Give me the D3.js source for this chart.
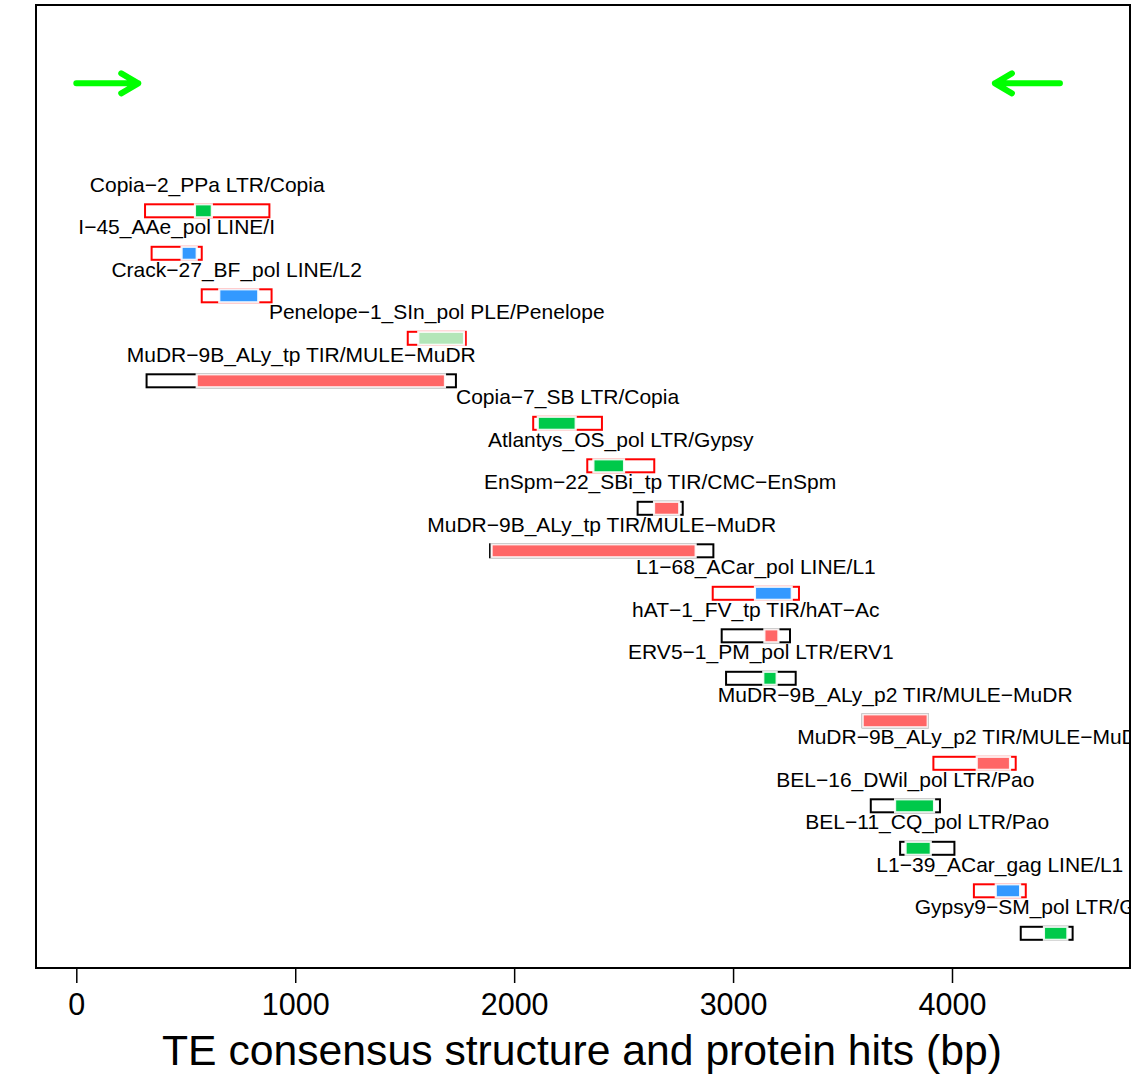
<!DOCTYPE html>
<html>
<head>
<meta charset="utf-8">
<script src="https://cdn.jsdelivr.net/npm/d3@7"></script>
<style>
  html, body { margin: 0; padding: 0; background: #fff; }
  svg { display: block; font-family: "Liberation Sans", Arial, Helvetica, sans-serif; }
</style>
</head>
<body>
<svg id="chart" width="1131" height="1080"></svg>
<script>
// ---- data ----
const hitNames = [
  "Copia−2_PPa LTR/Copia",
  "I−45_AAe_pol LINE/I",
  "Crack−27_BF_pol LINE/L2",
  "Penelope−1_SIn_pol PLE/Penelope",
  "MuDR−9B_ALy_tp TIR/MULE−MuDR",
  "Copia−7_SB LTR/Copia",
  "Atlantys_OS_pol LTR/Gypsy",
  "EnSpm−22_SBi_tp TIR/CMC−EnSpm",
  "MuDR−9B_ALy_tp TIR/MULE−MuDR",
  "L1−68_ACar_pol LINE/L1",
  "hAT−1_FV_tp TIR/hAT−Ac",
  "ERV5−1_PM_pol LTR/ERV1",
  "MuDR−9B_ALy_p2 TIR/MULE−MuDR",
  "MuDR−9B_ALy_p2 TIR/MULE−MuDR",
  "BEL−16_DWil_pol LTR/Pao",
  "BEL−11_CQ_pol LTR/Pao",
  "L1−39_ACar_gag LINE/L1",
  "Gypsy9−SM_pol LTR/Gypsy"
];
// TE consensus span of each hit (bp)
const teFrom = [314, 344, 573, 1514, 321, 2087, 2334, 2564, 1890, 2907, 2948, 2968, 3592, 3915, 3629, 3763, 4100, 4314];
const teTo   = [882, 573, 892, 1779, 1734, 2401, 2640, 2770, 2910, 3301, 3260, 3286, 3889, 4291, 3945, 4011, 4337, 4551];
// protein hit span (bp)
const protFrom = [542, 481, 653, 1562, 550, 2108, 2362, 2639, 1897, 3100, 3143, 3138, 3592, 4113, 3740, 3788, 4200, 4420];
const protTo   = [619, 550, 831, 1771, 1684, 2281, 2502, 2754, 2829, 3268, 3207, 3199, 3889, 4265, 3918, 3903, 4311, 4527];
// strand of the hit
const strands = ["-", "-", "-", "-", "+", "-", "-", "+", "+", "-", "+", "+", "+", "-", "+", "+", "-", "+"];
// terminal repeat arrows (bp): [from, to]
const arrowsBp = [[0, 283], [4493, 4196]];
const xTicks = [0, 1000, 2000, 3000, 4000];
const xTitle = "TE consensus structure and protein hits (bp)";

// ---- styles ----
const classColor = { LTR: "#00C94A", LINE: "#3399FF", TIR: "#FF6666", PLE: "#B3E6B8" };
const strandColor = { "+": "#000000", "-": "#FF0000" };

const svg = d3.select("#chart");
const box = { left: 36, right: 1130, top: 5, bottom: 968 };

const x = d3.scaleLinear().domain([0, 4000]).range([76.3, 952]);
const y = d3.scaleLinear().domain([-3, 17]).range([83.3, 933.3]);
const barH = 13;

svg.append("defs").append("clipPath").attr("id", "plotclip")
  .append("rect").attr("x", box.left).attr("y", box.top)
  .attr("width", box.right - box.left).attr("height", box.bottom - box.top);

const g = svg.append("g").attr("clip-path", "url(#plotclip)");

const rows = hitNames.map((n, i) => ({
  name: n, i, teFrom: teFrom[i], teTo: teTo[i], pFrom: protFrom[i], pTo: protTo[i],
  strand: strands[i], cls: n.split(" ")[1].split("/")[0]
}));

// labels
g.selectAll("text.lab").data(rows).enter().append("text")
  .attr("class", "lab")
  .attr("x", d => (x(d.teFrom) + x(d.teTo)) / 2)
  .attr("y", d => y(d.i) - 19)
  .attr("text-anchor", "middle")
  .attr("font-size", 21)
  .attr("fill", "#000")
  .text(d => d.name);

// TE outline rects
g.selectAll("rect.te").data(rows).enter().append("rect")
  .attr("class", "te")
  .attr("x", d => x(d.teFrom))
  .attr("y", d => y(d.i) - barH / 2)
  .attr("width", d => x(d.teTo) - x(d.teFrom))
  .attr("height", barH)
  .attr("fill", "none")
  .attr("stroke", d => strandColor[d.strand])
  .attr("stroke-width", 2);

// protein hit rects
g.selectAll("rect.prot").data(rows).enter().append("rect")
  .attr("class", "prot")
  .attr("x", d => x(d.pFrom))
  .attr("y", d => y(d.i) - barH / 2)
  .attr("width", d => x(d.pTo) - x(d.pFrom))
  .attr("height", barH)
  .attr("fill", d => classColor[d.cls])
  .attr("stroke", "rgba(255,255,255,0.9)")
  .attr("stroke-width", 2.2);

// arrows
const ay = y(-3);
arrowsBp.forEach(([a, b]) => {
  const x0 = x(a), x1 = x(b);
  const dir = Math.sign(x1 - x0);
  const p = d3.path();
  p.moveTo(x0, ay); p.lineTo(x1, ay);
  p.moveTo(x1 - dir * 17, ay - 10); p.lineTo(x1, ay); p.lineTo(x1 - dir * 17, ay + 10);
  g.append("path").attr("d", p.toString())
    .attr("fill", "none").attr("stroke", "#00FF00").attr("stroke-width", 6)
    .attr("stroke-linecap", "round").attr("stroke-linejoin", "round");
});

// box
svg.append("rect").attr("x", box.left).attr("y", box.top)
  .attr("width", box.right - box.left).attr("height", box.bottom - box.top)
  .attr("fill", "none").attr("stroke", "#000").attr("stroke-width", 2);

// x axis
const axisG = svg.append("g").attr("transform", `translate(0,${box.bottom})`)
  .call(d3.axisBottom(x).tickValues(xTicks).tickSize(15).tickPadding(0).tickFormat(d3.format("d")));
axisG.select(".domain").attr("stroke", "#000").attr("stroke-width", 2)
  .attr("d", `M${x(xTicks[0])},0H${x(xTicks[xTicks.length - 1])}`);
axisG.selectAll(".tick line").attr("stroke", "#000").attr("stroke-width", 1.5);
axisG.selectAll(".tick text").attr("font-size", 30.5).attr("fill", "#000")
  .attr("font-family", "Liberation Sans, Arial, sans-serif")
  .attr("dy", null).attr("y", 47);

svg.append("text").attr("x", (box.left + box.right) / 2 - 1).attr("y", 1065)
  .attr("text-anchor", "middle").attr("font-size", 42.7).attr("fill", "#000")
  .text(xTitle);
</script>
</body>
</html>
